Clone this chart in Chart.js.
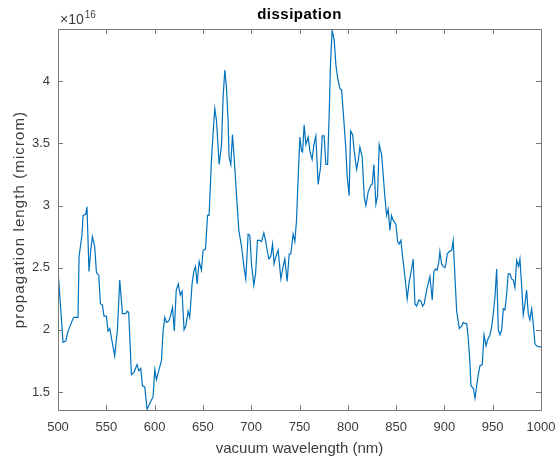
<!DOCTYPE html>
<html>
<head>
<meta charset="utf-8">
<script src="https://cdn.jsdelivr.net/npm/chart.js@4"></script>
<style>
  html, body { margin: 0; padding: 0; background: #fff; }
  #wrap { width: 558px; height: 463px; }
</style>
</head>
<body>
<div id="wrap"><canvas id="chart" width="558" height="463"></canvas></div>
<script>
// wavelength (nm)
const wavelength = [
  500, 505.2, 508, 510.4, 514.5, 516.3, 520.7, 521.8, 524.9, 525.9, 528.7, 530, 532.1, 533.9, 535.6, 538, 539.8,
  542.2, 543.9, 546, 547.6, 550.1, 551.8, 553.6, 555.9, 558.7, 561.5, 563.9, 566.7, 570.1, 571.5, 573.2, 576,
  578.7, 581.8, 583.6, 585.7, 587.4, 589.8, 592.2, 595.7, 598.4, 600.2, 601.9, 603.6, 605.3, 607.1, 608.8, 610.5,
  612.3, 614.7, 616.4, 618.5, 620.4, 622.4, 624.5, 626.6, 628.4, 630.5, 632.3, 634.7, 636.4, 638.8, 640.6, 642.3,
  644, 646.1, 648.5, 650.2, 652.7, 654.8, 656.4, 658.9, 660.6, 662.3, 664.1, 666.8, 669.3, 670.9, 672.7, 674.4,
  676.1, 677.1, 678.9, 680.6, 682.3, 684.1, 687.2, 690, 692.4, 694.4, 696.8, 698.6, 700.3, 702.7, 704.5, 706.5,
  708.9, 710.7, 713.1, 714.8, 716.5, 718.3, 720.3, 722.1, 723.7, 725.5, 727.9, 730.7, 733.1, 734.8, 737.2, 739.3,
  741, 743.4, 745.2, 746.9, 748.6, 750.4, 752.1, 753.2, 754.8, 756.6, 759, 760.7, 763.1, 764.9, 766.9, 769.3,
  771.8, 773.5, 775.5, 777.3, 779.1, 780.7, 782.2, 783.8, 785.9, 787.7, 789.4, 791.8, 793.6, 795.2, 797.7, 799.4,
  801.4, 802.9, 805, 806.6, 809.1, 810.8, 812.5, 814.9, 817, 818.7, 821.1, 823.6, 825.3, 827, 829.1, 830.8,
  832.5, 835, 836.6, 838.4, 840.2, 841.8, 843.6, 845.3, 847, 849.8, 851.6, 853.2, 855, 856.7, 859.1, 861.5,
  863.6, 866.1, 867.7, 869.5, 871.2, 873.6, 875.7, 877.4, 879.1, 881.6, 883.2, 885, 887.4, 889.1, 890.9, 892.5,
  894.3, 895.3, 897.1, 898.7, 900.5, 901.6, 902.9, 905, 907.5, 909.1, 910.9, 912.7, 915.4, 917.9, 919.5, 921.3,
  923.1, 924.7, 926.5, 927.5, 929.9, 931.7, 933.4, 935.1, 936.8, 939.2, 941, 943.1, 944.8, 947.2, 949, 950.6,
  952.4, 954.1, 955.8, 957.5, 959.3, 961, 962.7, 964.5, 966.1, 967.9, 969.6, 971.3, 973, 974.8, 976.8, 978.2,
  980, 981.6, 983.4, 985.1, 986.8, 988.5, 990.3, 992, 993.7, 995.5, 1000
];
// propagation length, in units of 1e16 micrometres
const propLength = [
  2.48, 1.90, 1.91, 1.99, 2.07, 2.10, 2.10, 2.59, 2.77, 2.92, 2.93, 2.99, 2.47, 2.64, 2.75, 2.67, 2.46,
  2.44, 2.21, 2.20, 2.11, 2.11, 1.99, 2.01, 1.91, 1.79, 2.00, 2.40, 2.13, 2.13, 2.15, 2.14, 1.64,
  1.66, 1.72, 1.67, 1.69, 1.55, 1.54, 1.36, 1.42, 1.46, 1.68, 1.60, 1.65, 1.70, 1.75, 1.99, 2.10,
  2.06, 2.07, 2.11, 2.18, 1.99, 2.32, 2.37, 2.28, 2.31, 2.00, 2.03, 2.15, 2.10, 2.37, 2.47, 2.51,
  2.37, 2.55, 2.48, 2.64, 2.65, 2.92, 2.92, 3.37, 3.59, 3.78, 3.68, 3.33, 3.49, 3.87, 4.09, 3.95,
  3.68, 3.39, 3.33, 3.57, 3.39, 3.17, 2.80, 2.67, 2.51, 2.41, 2.77, 2.76, 2.53, 2.36, 2.45, 2.72,
  2.72, 2.71, 2.78, 2.72, 2.64, 2.57, 2.59, 2.69, 2.53, 2.59, 2.64, 2.41, 2.51, 2.57, 2.39, 2.61,
  2.61, 2.77, 2.71, 2.88, 3.22, 3.55, 3.44, 3.43, 3.65, 3.49, 3.55, 3.44, 3.37, 3.49, 3.56, 3.17,
  3.31, 3.56, 3.56, 3.33, 3.33, 3.73, 4.16, 4.41, 4.33, 4.13, 4.03, 3.94, 3.93, 3.76, 3.49, 3.23,
  3.08, 3.60, 3.57, 3.44, 3.29, 3.36, 3.47, 3.39, 3.07, 3.00, 3.11, 3.16, 3.17, 3.33, 3.01, 3.08,
  3.49, 3.41, 3.25, 3.07, 2.92, 2.97, 2.80, 2.92, 2.88, 2.85, 2.71, 2.69, 2.72, 2.59, 2.43, 2.25,
  2.39, 2.49, 2.57, 2.21, 2.19, 2.24, 2.23, 2.19, 2.21, 2.32, 2.37, 2.43, 2.24, 2.47, 2.49, 2.48,
  2.55, 2.63, 2.53, 2.51, 2.50, 2.53, 2.61, 2.63, 2.64, 2.72, 2.43, 2.15, 2.01, 2.03, 2.06, 2.05,
  2.05, 1.93, 1.73, 1.55, 1.53, 1.45, 1.55, 1.64, 1.71, 1.72, 1.96, 1.87, 1.92, 1.96, 2.03, 2.13,
  2.27, 2.49, 2.00, 1.96, 2.00, 2.17, 2.16, 2.29, 2.45, 2.45, 2.41, 2.40, 2.34, 2.56, 2.51, 2.57,
  2.35, 2.12, 2.21, 2.32, 2.13, 2.08, 2.17, 2.05, 1.89, 1.87, 1.86
];
const xTicks = [500, 550, 600, 650, 700, 750, 800, 850, 900, 950, 1000];
const yTicks = [1.5, 2, 2.5, 3, 3.5, 4];
const yExponent = 16;
const titleText = 'dissipation';
const xLabel = 'vacuum wavelength (nm)';
const yLabel = 'propagation length (microm)';

const FONT = '"Liberation Sans", Arial, Helvetica, sans-serif';
const BOX = '#7a7a7a';
const TXT = '#3c3c3c';
Chart.defaults.font.family = FONT;
Chart.defaults.color = TXT;

const scale = Math.pow(10, yExponent);
const points = wavelength.map((w, i) => ({ x: w, y: propLength[i] * scale }));

// MATLAB-style box, inward ticks, title, axis labels and exponent
const decor = {
  id: 'decor',
  afterDraw(chart) {
    const { ctx, chartArea: a, scales } = chart;
    const xs = scales.x, ys = scales.y;
    ctx.save();
    ctx.strokeStyle = BOX;
    ctx.lineWidth = 1;
    ctx.strokeRect(Math.round(a.left) + 0.5, Math.round(a.top) + 0.5,
      Math.round(a.right - a.left), Math.round(a.bottom - a.top));
    const tl = 5;
    ctx.beginPath();
    xTicks.forEach(t => {
      const px = Math.round(xs.getPixelForValue(t)) + 0.5;
      ctx.moveTo(px, a.bottom); ctx.lineTo(px, a.bottom - tl);
      ctx.moveTo(px, a.top); ctx.lineTo(px, a.top + tl);
    });
    yTicks.forEach(t => {
      const py = Math.round(ys.getPixelForValue(t * scale)) + 0.5;
      ctx.moveTo(a.left, py); ctx.lineTo(a.left + tl, py);
      ctx.moveTo(a.right, py); ctx.lineTo(a.right - tl, py);
    });
    ctx.stroke();

    ctx.fillStyle = '#000';
    ctx.font = 'bold 15px ' + FONT;
    ctx.letterSpacing = '0.5px';
    ctx.textAlign = 'center';
    ctx.textBaseline = 'alphabetic';
    ctx.fillText(titleText, (a.left + a.right) / 2, 19);

    ctx.fillStyle = TXT;
    ctx.font = '15px ' + FONT;
    ctx.letterSpacing = '0px';
    ctx.textBaseline = 'middle';
    ctx.fillText(xLabel, (a.left + a.right) / 2, 449);

    ctx.save();
    ctx.translate(20, (a.top + a.bottom) / 2);
    ctx.rotate(-Math.PI / 2);
    ctx.letterSpacing = '1.1px';
    ctx.fillText(yLabel, 0, 0);
    ctx.restore();

    ctx.letterSpacing = '0px';
    ctx.textAlign = 'left';
    ctx.textBaseline = 'alphabetic';
    ctx.font = '14px ' + FONT;
    ctx.fillText('\u00d710', a.left + 2, 24);
    const w = ctx.measureText('\u00d710').width;
    ctx.font = '10px ' + FONT;
    ctx.fillText(String(yExponent), a.left + 3 + w, 18);
    ctx.restore();
  }
};

new Chart(document.getElementById('chart'), {
  type: 'scatter',
  data: {
    datasets: [{
      data: points,
      showLine: true,
      borderColor: '#0072BD',
      borderWidth: 1.2,
      pointRadius: 0,
      tension: 0
    }]
  },
  options: {
    responsive: false,
    animation: false,
    layout: { padding: { top: 29, right: 17, left: 0, bottom: 0 } },
    plugins: { legend: { display: false }, tooltip: { enabled: false } },
    scales: {
      x: {
        type: 'linear',
        min: 500, max: 1000,
        grid: { display: false, drawTicks: false },
        border: { display: false },
        afterBuildTicks: s => { s.ticks = xTicks.map(v => ({ value: v })); },
        afterFit: s => { s.height = 53; s.paddingLeft = 0; s.paddingRight = 0; },
        ticks: { padding: 10, font: { size: 13 }, color: TXT, maxRotation: 0, autoSkip: false,
          callback: v => String(v) }
      },
      y: {
        type: 'linear',
        min: 1.355 * scale, max: 4.42 * scale,
        grid: { display: false, drawTicks: false },
        border: { display: false },
        afterBuildTicks: s => { s.ticks = yTicks.map(v => ({ value: v * scale })); },
        afterFit: s => { s.width = 58; s.paddingTop = 0; s.paddingBottom = 0; },
        ticks: { padding: 8, font: { size: 13 }, color: TXT, autoSkip: false,
          callback: v => String(Math.round(v / scale * 10) / 10) }
      }
    }
  },
  plugins: [decor]
});
</script>
</body>
</html>
